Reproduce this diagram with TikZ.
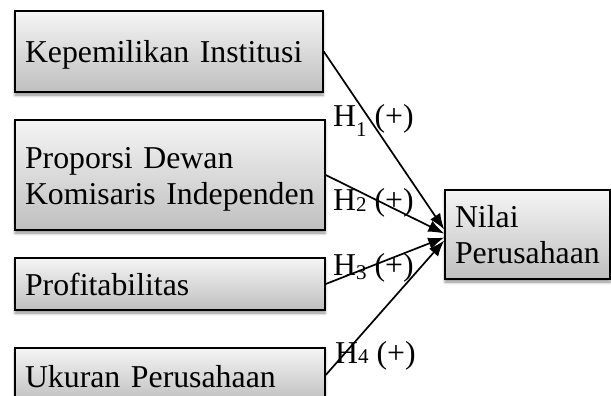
\documentclass[tikz,border=0pt]{standalone}
\usepackage{fontspec}
\setmainfont{Liberation Serif}
\usetikzlibrary{arrows.meta,shadows.blur}
\newcommand{\hsubx}[2]{H\raisebox{#2}{\fontsize{21}{24}\selectfont #1}}
\tikzset{
  varbox/.style={rectangle, draw=black, line width=1.5pt,
    top color=gray!8, bottom color=gray!50,
    blur shadow={shadow xshift=0pt, shadow yshift=-3pt, shadow blur radius=3pt, shadow opacity=45},
    font=\fontsize{31.8}{36.6}\selectfont, align=left,
    inner xsep=10pt, inner ysep=1pt},
  conn/.style={draw=black, line width=1.7pt, -{Latex[length=16pt,width=12pt]}},
  hyp/.style={anchor=base west, inner sep=0pt, font=\fontsize{31.8}{36.6}\selectfont}
}
\begin{document}
\begin{tikzpicture}[x=1pt,y=-1pt]
\useasboundingbox (0,0) rectangle (611,396);
\clip (0,0) rectangle (611,396);
\node[varbox, text width=288pt, minimum height=81pt, text height=26pt, text depth=3pt] (b1) at (169,51.5) {Kepemilikan Institusi};
\node[varbox, text width=290pt, minimum height=110pt, text height=22pt, text depth=36pt] (b2) at (170,175) {Proporsi Dewan\\Komisaris Independen};
\node[varbox, text width=290pt, minimum height=52pt, text height=25pt, text depth=3pt] (b3) at (170,284) {Profitabilitas};
\node[varbox, text width=290pt, minimum height=54pt, text height=26pt, text depth=2pt] (b4) at (170,375) {Ukuran Perusahaan};
\node[varbox, text width=145pt, minimum height=89pt, text height=22pt, text depth=37pt] (nilai) at (527.5,234.5) {Nilai\\Perusahaan};
\draw[conn] (b1.east) -- ([yshift=5pt]nilai.west);
\draw[conn] (b2.east) -- ([yshift=1pt]nilai.west);
\draw[conn] (b3.east) -- ([yshift=-3pt]nilai.west);
\draw[conn] (b4.east) -- ([yshift=-6pt]nilai.west);
\node[hyp] (h1) at (333,126) {\hsubx{1}{-10pt} (+)};
\node[hyp] (h2) at (333,210) {\hsubx{2}{-1.5pt} (+)};
\node[hyp] (h3) at (333,275) {\hsubx{3}{-4pt} (+)};
\node[hyp] (h4) at (335,363) {\hsubx{4}{0pt} (+)};
\end{tikzpicture}
\end{document}
